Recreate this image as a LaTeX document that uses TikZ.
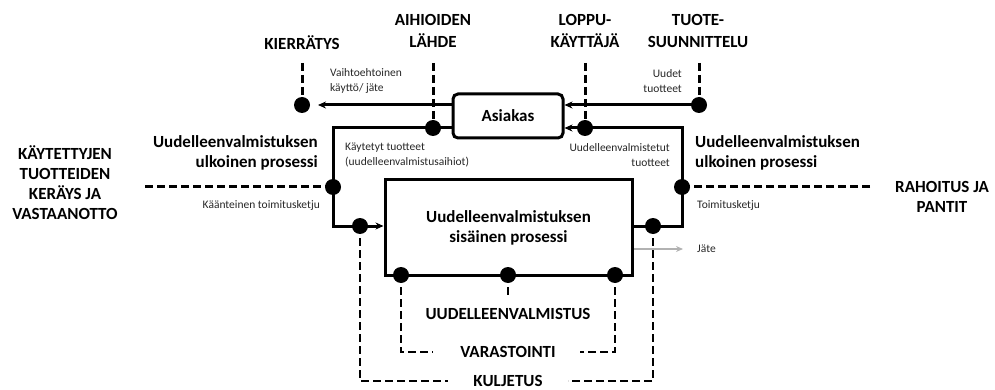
\documentclass[tikz,border=0pt]{standalone}
\usepackage{fontspec}
\setmainfont{Carlito}
\usetikzlibrary{arrows.meta}
\begin{document}
\begin{tikzpicture}[x=1pt,y=-1pt,
  flow/.style={line width=3pt},
  link/.style={line width=3pt, dash pattern=on 8pt off 4pt},
  thinlink/.style={line width=2.3pt, dash pattern=on 8pt off 4pt},
  dot/.style={circle, fill=black, minimum size=16pt, inner sep=0pt},
  head/.style={font=\fontsize{17}{22}\selectfont\bfseries, align=center, inner sep=0pt},
  headtight/.style={font=\fontsize{17}{20}\selectfont\bfseries, inner sep=0pt},
  small/.style={font=\fontsize{11.5}{15.5}\selectfont, text=black!85, inner sep=0pt},
  arr/.style={-{Stealth[length=8pt,width=7pt]}},
  box/.style={draw, line width=3pt, font=\fontsize{17}{20}\selectfont\bfseries, align=center},
]
\useasboundingbox (0,0) rectangle (995,390);

% process boxes
\node[box, rounded corners=5pt, minimum width=110pt, minimum height=44pt] (asiakas) at (508,116) {Asiakas};
\node[box, minimum width=247pt, minimum height=95pt] (inner) at (508.5,227.5) {Uudelleenvalmistuksen\\sisäinen prosessi};

% junction points and line ends
\coordinate (pKier) at (302,105);  \coordinate (tKier) at (302,63);
\coordinate (pAih)  at (433,128);  \coordinate (tAih)  at (433,63);
\coordinate (pLop)  at (585,128);  \coordinate (tLop)  at (585,63);
\coordinate (pTuo)  at (699,105);  \coordinate (tTuo)  at (699,63);
\coordinate (tipKier) at (318,105);
\coordinate (cL1) at (333,128);    \coordinate (cL2) at (333,226);
\coordinate (pLeft) at (333,187);  \coordinate (eLeft) at (145,187);
\coordinate (pLow) at (360,226);
\coordinate (cR1) at (682,128);    \coordinate (cR2) at (682,226);
\coordinate (pRight) at (682,187); \coordinate (eRight) at (870,187);
\coordinate (pLowR) at (653,226);
\coordinate (jStart) at (634,249); \coordinate (jEnd) at (683,249);
\coordinate (pB1) at (401,275);    \coordinate (pB2) at (508,275);    \coordinate (pB3) at (615,275);
\coordinate (v1) at (401,352);     \coordinate (v1e) at (433,352);
\coordinate (v3) at (615,352);     \coordinate (v3e) at (580,352);
\coordinate (v2e) at (508,296);
\coordinate (k1) at (360,381);     \coordinate (k1e) at (448,381);
\coordinate (k2) at (653,381);     \coordinate (k2e) at (568,381);

% material flows
\draw[flow,arr] (asiakas.west |- pKier) -- (tipKier);
\draw[flow,arr] (pTuo) -- (pTuo -| asiakas.east);
\draw[flow,arr] (asiakas.west |- cL1) -- (cL1) -- (cL2) -- (cL2 -| inner.west);
\draw[flow,arr] (cR2 -| inner.east) -- (cR2) -- (cR1) -- (cR1 -| asiakas.east);
\draw[black!30, line width=1.6pt, -{Stealth[length=7pt,width=6pt]}] (jStart) -- (jEnd);

% dashed links to the actors
\draw[link] (tKier) -- (pKier);
\draw[link] (tAih) -- (pAih);
\draw[link] (tLop) -- (pLop);
\draw[link] (tTuo) -- (pTuo);
\draw[link] (eLeft) -- (pLeft);
\draw[link] (eRight) -- (pRight);
\draw[thinlink] (pLow) -- (k1) -- (k1e);
\draw[thinlink] (pLowR) -- (k2) -- (k2e);
\draw[thinlink] (pB1) -- (v1) -- (v1e);
\draw[thinlink] (pB3) -- (v3) -- (v3e);
\draw[thinlink] (pB2) -- (v2e);

% junction dots
\foreach \p in {pKier,pAih,pLop,pTuo,pLeft,pRight,pLow,pLowR,pB1,pB2,pB3}
  \node[dot] at (\p) {};

% actor labels
\node[head] (lKier) at (302,43) {KIERRÄTYS};
\node[head] (lAih) at (433,31) {AIHIOIDEN\\LÄHDE};
\node[head] (lLop) at (585,31) {LOPPU-\\KÄYTTÄJÄ};
\node[head] (lTuo) at (698,31) {TUOTE-\\SUUNNITTELU};
\node[headtight, align=center] (lKer) at (65,183) {KÄYTETTYJEN\\TUOTTEIDEN\\KERÄYS JA\\VASTAANOTTO};
\node[headtight, align=center] (lRah) at (942,197) {RAHOITUS JA\\PANTIT};
\node[headtight, align=right, anchor=east] (lUL) at (318,153) {Uudelleenvalmistuksen\\ulkoinen prosessi};
\node[headtight, align=left, anchor=west] (lUR) at (695,153) {Uudelleenvalmistuksen\\ulkoinen prosessi};
\node[head] (lUV) at (508,314) {UUDELLEENVALMISTUS};
\node[head] (lVar) at (508,352) {VARASTOINTI};
\node[head] (lKul) at (508,381) {KULJETUS};

% flow labels
\node[small, align=left, anchor=west] (fVai) at (330,81) {Vaihtoehtoinen\\käyttö/ jäte};
\node[small, align=right, anchor=east] (fUud) at (682,81) {Uudet\\tuotteet};
\node[small, align=left, anchor=west] (fKay) at (345,155) {Käytetyt tuotteet\\(uudelleenvalmistusaihiot)};
\node[small, align=right, anchor=east] (fUvt) at (670,155) {Uudelleenvalmistetut\\tuotteet};
\node[small, anchor=east] (fKaa) at (320,205) {Käänteinen toimitusketju};
\node[small, anchor=west] (fToi) at (697,205) {Toimitusketju};
\node[small, anchor=west] (fJat) at (697,249) {Jäte};
\end{tikzpicture}
\end{document}
